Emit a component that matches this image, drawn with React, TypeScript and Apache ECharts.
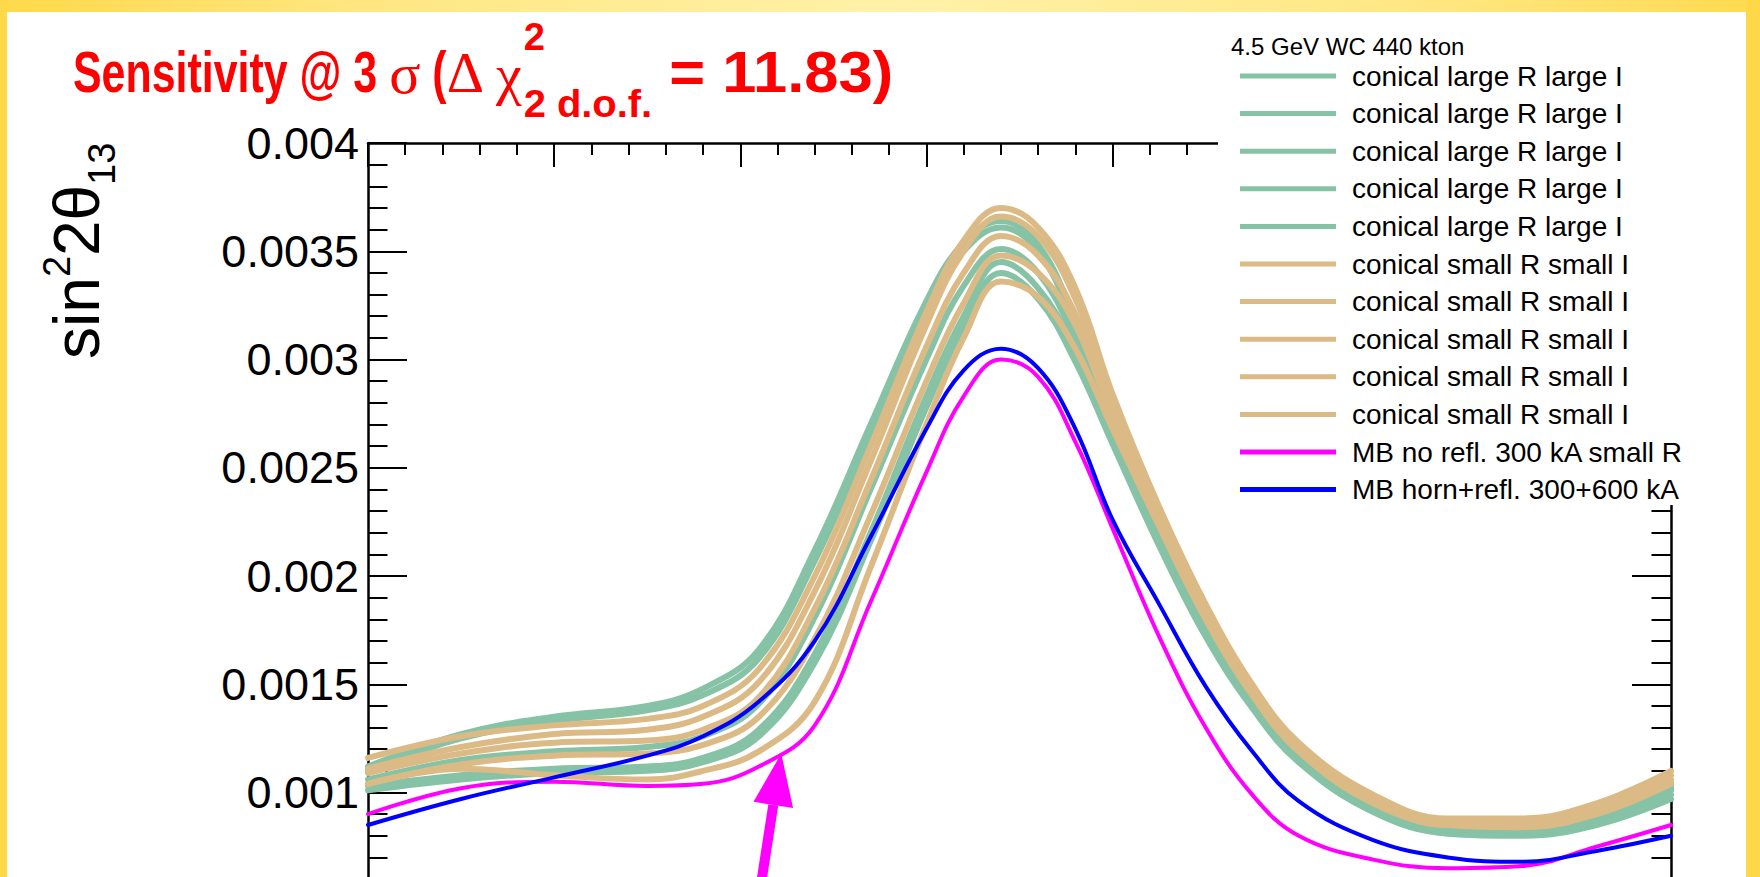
import React, { useEffect, useRef } from "react";
import * as echarts from "echarts";

// Horizontal positions shared by every curve (axis units, 7 major divisions)
const xPoints = [0, 0.5, 1.0, 1.5, 1.8, 2.1, 2.4, 2.7, 3.0, 3.2, 3.4, 3.6, 3.8, 4.0, 4.25, 4.5, 4.75, 5.0, 5.4, 5.8, 6.2, 6.6, 7.0];

// conical horn, large R, large I
const largeR1 = [0.00112, 0.00127, 0.00135, 0.0014, 0.00148, 0.00166, 0.00212, 0.0027, 0.00327, 0.00354, 0.00364, 0.00353, 0.00318, 0.00273, 0.00223, 0.0018, 0.00145, 0.00119, 0.00095, 0.00085, 0.00084, 0.0009, 0.00103];
const largeR2 = [0.0011, 0.00125, 0.00133, 0.00138, 0.00145, 0.00162, 0.00207, 0.00265, 0.00322, 0.0035, 0.00361, 0.0035, 0.00315, 0.00271, 0.00221, 0.00178, 0.00143, 0.00118, 0.00094, 0.00084, 0.00083, 0.00089, 0.00102];
const largeR3 = [0.00106, 0.00115, 0.00119, 0.00121, 0.00126, 0.00141, 0.00181, 0.0024, 0.003, 0.00334, 0.00351, 0.0034, 0.00309, 0.00267, 0.00219, 0.00177, 0.00142, 0.00117, 0.00093, 0.00083, 0.00082, 0.00088, 0.00101];
const largeR4 = [0.00103, 0.00108, 0.00111, 0.00112, 0.00116, 0.00129, 0.00164, 0.0022, 0.00283, 0.0032, 0.00345, 0.00333, 0.00304, 0.00264, 0.00217, 0.00174, 0.00141, 0.00115, 0.00092, 0.00082, 0.00081, 0.00087, 0.00099];
const largeR5 = [0.00101, 0.00106, 0.00109, 0.0011, 0.00114, 0.00126, 0.0016, 0.00216, 0.00278, 0.00315, 0.0034, 0.00328, 0.00299, 0.00261, 0.00214, 0.00172, 0.00139, 0.00114, 0.00091, 0.00081, 0.0008, 0.00085, 0.00097];

// conical horn, small R, small I
const smallR1 = [0.00116, 0.00126, 0.00131, 0.00134, 0.0014, 0.00157, 0.002, 0.0026, 0.00322, 0.00355, 0.0037, 0.00361, 0.00333, 0.00284, 0.00232, 0.00187, 0.0015, 0.00123, 0.00099, 0.00088, 0.00088, 0.00095, 0.0011];
const smallR2 = [0.00111, 0.00121, 0.00127, 0.00129, 0.00135, 0.00151, 0.00193, 0.00253, 0.00316, 0.0035, 0.00366, 0.00357, 0.00328, 0.00281, 0.00229, 0.00185, 0.00148, 0.00122, 0.00098, 0.00087, 0.00087, 0.00094, 0.00108];
const smallR3 = [0.00109, 0.00118, 0.00123, 0.00124, 0.00129, 0.00144, 0.00185, 0.00244, 0.00306, 0.0034, 0.00357, 0.00348, 0.00321, 0.00276, 0.00227, 0.00183, 0.00147, 0.0012, 0.00097, 0.00086, 0.00086, 0.00092, 0.00106];
const smallR4 = [0.00104, 0.00113, 0.00117, 0.00118, 0.00122, 0.00135, 0.00171, 0.00228, 0.0029, 0.00326, 0.00348, 0.0034, 0.00316, 0.00273, 0.00225, 0.00181, 0.00146, 0.00119, 0.00096, 0.00085, 0.00085, 0.00091, 0.00105];
const smallR5 = [0.00104, 0.00111, 0.00108, 0.00106, 0.0011, 0.00119, 0.00142, 0.00204, 0.0027, 0.0031, 0.00336, 0.00329, 0.00305, 0.00268, 0.00223, 0.0018, 0.00145, 0.00119, 0.00095, 0.00085, 0.00084, 0.0009, 0.00104];

// magnetic horn configurations
const mbNoRefl = [0.0009, 0.00102, 0.00105, 0.00103, 0.00104, 0.00112, 0.00131, 0.00188, 0.00248, 0.00283, 0.003, 0.00292, 0.00262, 0.00222, 0.00172, 0.0013, 0.00099, 0.0008, 0.00069, 0.00065, 0.00066, 0.00075, 0.00085];
const mbHornRefl = [0.00085, 0.00097, 0.00107, 0.00117, 0.00126, 0.00142, 0.0017, 0.00218, 0.00268, 0.00295, 0.00305, 0.00296, 0.00268, 0.00226, 0.00187, 0.00149, 0.00119, 0.00096, 0.00078, 0.0007, 0.00068, 0.00073, 0.0008];

const legendHeader = "4.5 GeV WC 440 kton";
const labelLarge = "conical large R large I";
const labelSmall = "conical small R small I";
const labelNoRefl = "MB no refl. 300 kA small R";
const labelHornRefl = "MB horn+refl. 300+600 kA";

// y axis range and tick step
const yMin = 0;
const yMax = 0.004;
const yStep = 0.0005;
const yFirstLabel = 0.001;
const xMin = 0;
const xMax = 7;
const xStep = 1;

// point the arrow at on the "MB no refl." curve
const arrowTip = [2.22, 0.00118];

const GREEN = "#86c3a6";
const TAN = "#dcba86";
const MAGENTA = "#ff00ff";
const BLUE = "#0000ff";

const curves = [
  { label: labelLarge, color: GREEN, width: 6, values: largeR1 },
  { label: labelLarge, color: GREEN, width: 6, values: largeR2 },
  { label: labelLarge, color: GREEN, width: 6, values: largeR3 },
  { label: labelLarge, color: GREEN, width: 6, values: largeR4 },
  { label: labelLarge, color: GREEN, width: 6, values: largeR5 },
  { label: labelSmall, color: TAN, width: 6, values: smallR1 },
  { label: labelSmall, color: TAN, width: 6, values: smallR2 },
  { label: labelSmall, color: TAN, width: 6, values: smallR3 },
  { label: labelSmall, color: TAN, width: 6, values: smallR4 },
  { label: labelSmall, color: TAN, width: 6, values: smallR5 },
  { label: labelNoRefl, color: MAGENTA, width: 4, values: mbNoRefl },
  { label: labelHornRefl, color: BLUE, width: 4, values: mbHornRefl },
];

const SANS = "Liberation Sans";
const SERIF = "Liberation Serif";
const W = 1760;
const H = 1060;

function axisCommon(extra: any) {
  return {
    type: "value",
    splitLine: { show: false },
    axisLine: { show: true, onZero: false, lineStyle: { color: "#000", width: 2.5 } },
    ...extra,
  };
}

function buildOption() {
  const xTick = { inside: true, length: 24, lineStyle: { color: "#000", width: 2 } };
  const xMinor = { show: true, splitNumber: 5, length: 12, lineStyle: { color: "#000", width: 2 } };
  const yTick = { inside: true, length: 39, lineStyle: { color: "#000", width: 2 } };
  const yMinor = { show: true, splitNumber: 5, length: 19.5, lineStyle: { color: "#000", width: 2 } };
  return {
    animation: false,
    backgroundColor: "#ffffff",
    grid: { left: 368, right: W - 1671, top: 143, height: 866, containLabel: false, outerBoundsMode: "none" },
    xAxis: [
      axisCommon({ position: "bottom", min: xMin, max: xMax, interval: xStep, axisTick: xTick, minorTick: xMinor, axisLabel: { show: false } }),
      axisCommon({ position: "top", min: xMin, max: xMax, interval: xStep, axisTick: xTick, minorTick: xMinor, axisLabel: { show: false } }),
    ],
    yAxis: [
      axisCommon({
        position: "left",
        min: yMin,
        max: yMax,
        interval: yStep,
        axisTick: yTick,
        minorTick: yMinor,
        axisLabel: {
          show: true,
          color: "#000",
          fontFamily: SANS,
          fontSize: 45,
          margin: 9,
          formatter: (v: number) => (v < yFirstLabel - 1e-9 ? "" : String(Number(v.toFixed(4)))),
        },
      }),
      axisCommon({ position: "right", min: yMin, max: yMax, interval: yStep, axisTick: yTick, minorTick: yMinor, axisLabel: { show: false } }),
    ],
    series: curves.map((c, i) => ({
      type: "line",
      name: c.label + " " + i,
      xAxisIndex: 0,
      yAxisIndex: 0,
      smooth: 0.4,
      symbol: "none",
      lineStyle: { color: c.color, width: c.width, cap: "round", join: "round" },
      data: xPoints.map((x, k) => [x, c.values[k]]),
    })),
  };
}

let measureCtx: CanvasRenderingContext2D | null = null;
function textWidth(text: string, font: string) {
  if (!measureCtx) measureCtx = document.createElement("canvas").getContext("2d");
  if (!measureCtx) return text.length * 20;
  measureCtx.font = font;
  return measureCtx.measureText(text).width;
}

// title laid out piece by piece, like a TLatex string
function buildTitle() {
  const S = 58;
  const SUB = 38;
  const baseline = 92;
  const mainMid = baseline - 0.3465 * S;
  const bold = (s: number) => `bold ${s}px "${SANS}"`;
  const greek = `${S}px "${SERIF}"`;
  const pieces: { text: string; font: string; mid: number; sx: number }[] = [
    { text: "Sensitivity @ 3 ", font: bold(S), mid: mainMid, sx: 0.74 },
    { text: "\u03c3", font: greek, mid: mainMid + 2, sx: 1 },
    { text: " (", font: bold(S), mid: mainMid, sx: 0.74 },
    { text: "\u0394", font: greek, mid: mainMid + 1, sx: 1 },
    { text: " ", font: bold(S), mid: mainMid, sx: 0.74 },
    { text: "\u03c7", font: greek, mid: mainMid + 3, sx: 1 },
  ];
  const els: any[] = [];
  let cx = 73;
  const put = (text: string, font: string, mid: number, sx: number, x: number) => {
    els.push({
      type: "text",
      x,
      y: mid,
      scaleX: sx,
      z: 20,
      style: { text, fill: "#ff0000", font, verticalAlign: "middle", align: "left" },
    });
    return textWidth(text, font) * sx;
  };
  pieces.forEach((p) => {
    cx += put(p.text, p.font, p.mid, p.sx, cx);
  });
  cx += 2;
  const wSup = put("2", bold(SUB), 37, 1, cx);
  const wSub = put("2 d.o.f.", bold(SUB), 104, 1.05, cx);
  cx += Math.max(wSup, wSub);
  put(" = 11.83)", bold(S), mainMid, 1.06, cx);
  return els;
}

function buildGraphics(tip: number[]) {
  const yellow = new echarts.graphic.RadialGradient(900, 0, 900, [
    { offset: 0, color: "#fff2a8" },
    { offset: 0.6, color: "#ffe680" },
    { offset: 1, color: "#ffd94a" },
  ], true);
  const els: any[] = [];
  // slide-style yellow frame
  els.push({ type: "rect", z: 30, shape: { x: 0, y: 0, width: W, height: 12 }, style: { fill: yellow } });
  els.push({ type: "rect", z: 30, shape: { x: 0, y: 0, width: 7, height: H }, style: { fill: "#ffd84a" } });
  els.push({ type: "rect", z: 30, shape: { x: 1746, y: 0, width: W - 1746, height: H }, style: { fill: "#ffd84a" } });

  els.push(...buildTitle());

  // y axis title, reading upwards
  const big = 64;
  const small = 38;
  const t = (text: string, x: number, y: number, size: number) => ({
    type: "text",
    x,
    y,
    style: { text, fill: "#000", font: `${size}px "${SANS}"`, verticalAlign: "middle", align: "left" },
  });
  els.push({
    type: "group",
    x: 99,
    y: 359,
    rotation: Math.PI / 2,
    z: 20,
    children: [t("sin", 0, -22, big), t("2", 82, -42, small), t("2\u03b8", 103, -22, big), t("13", 174, 3, small)],
  });

  // legend box
  els.push({ type: "rect", z: 100, shape: { x: 1218, y: 12, width: 1746 - 1218, height: 505 - 12 }, style: { fill: "#fff" } });
  els.push({
    type: "text",
    z: 101,
    x: 1231,
    y: 46,
    style: { text: legendHeader, fill: "#000", font: `24px "${SANS}"`, verticalAlign: "middle" },
  });
  curves.forEach((c, i) => {
    const yy = 76 + i * 37.6;
    els.push({
      type: "line",
      z: 101,
      shape: { x1: 1240, y1: yy, x2: 1336, y2: yy },
      style: { stroke: c.color, lineWidth: 5 },
    });
    els.push({
      type: "text",
      z: 101,
      x: 1352,
      y: yy,
      style: { text: c.label, fill: "#000", font: `28px "${SANS}"`, verticalAlign: "middle" },
    });
  });

  // arrow pointing at the "MB no refl." curve
  const dx = 0.153;
  const dy = -0.988;
  const nx = -dy;
  const ny = dx;
  const [tx, ty] = tip;
  const headLen = 52;
  const headHalf = 20;
  const shaftHalf = 5;
  const bx = tx - headLen * dx;
  const by = ty - headLen * dy;
  const ex = tx - 260 * dx;
  const ey = ty - 260 * dy;
  els.push({
    type: "polygon",
    z: 25,
    shape: { points: [[tx, ty], [bx + headHalf * nx, by + headHalf * ny], [bx - headHalf * nx, by - headHalf * ny]] },
    style: { fill: MAGENTA },
  });
  els.push({
    type: "polygon",
    z: 25,
    shape: {
      points: [
        [bx + shaftHalf * nx, by + shaftHalf * ny],
        [ex + shaftHalf * nx, ey + shaftHalf * ny],
        [ex - shaftHalf * nx, ey - shaftHalf * ny],
        [bx - shaftHalf * nx, by - shaftHalf * ny],
      ],
    },
    style: { fill: MAGENTA },
  });
  return els;
}

export default function App() {
  const ref = useRef<HTMLDivElement>(null);
  useEffect(() => {
    if (!ref.current) return;
    const chart = echarts.init(ref.current, undefined, { renderer: "svg" });
    chart.setOption(buildOption() as any);
    const tip = chart.convertToPixel({ gridIndex: 0 } as any, arrowTip) as number[];
    chart.setOption({ graphic: buildGraphics(tip) } as any);
    return () => chart.dispose();
  }, []);
  return (
    <div style={{ position: "fixed", left: 0, top: 0, width: W, height: 877, overflow: "hidden", background: "#ffd84a" }}>
      <div ref={ref} style={{ width: W, height: H }} />
    </div>
  );
}
